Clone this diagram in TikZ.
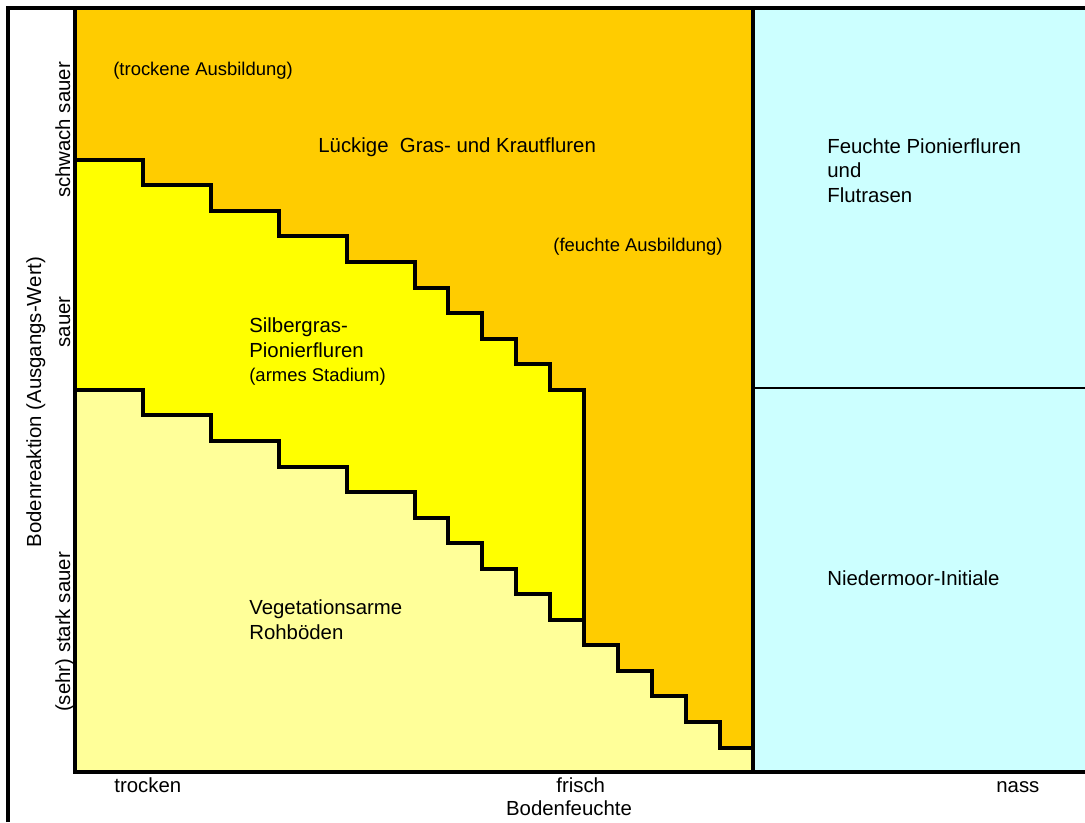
\documentclass[tikz,border=0pt]{standalone}
\usepackage{fontspec}
\setmainfont{Liberation Sans}
\definecolor{krautorange}{HTML}{FFCC00}
\definecolor{silbergelb}{HTML}{FFFF00}
\definecolor{rohgelb}{HTML}{FFFF99}
\definecolor{nasscyan}{HTML}{CCFFFF}

\begin{document}
\begin{tikzpicture}[x=0.02cm,y=-0.02cm,
    rand/.style={line width=2pt},
    zone/.style={anchor=base west,inner sep=0pt,font=\fontsize{11.6}{14}\selectfont},
    zonesmall/.style={zone,font=\fontsize{10.5}{12.6}\selectfont},
    achse/.style={anchor=base,inner sep=0pt,rotate=90,font=\fontsize{11.6}{14}\selectfont}]
    \useasboundingbox (0,0) rectangle (1085,822);
    % Flaechen
    \fill[krautorange] (75,8) rectangle (753,772);
    \fill[silbergelb] (75,160) -| (143,185) -| (211,211) -| (279,236) -| (347,262) -| (415,288)
        -| (448,313) -| (482,339) -| (516,364) -| (550,390) -| (584,772) -- (75,772) -- cycle;
    \fill[rohgelb] (75,390) -| (143,415) -| (211,441) -| (279,467) -| (347,492) -| (415,518)
        -| (448,543) -| (482,569) -| (516,594) -| (550,620) -| (584,645) -| (618,671)
        -| (652,696) -| (686,722) -| (720,748) -| (753,772) -- (75,772) -- cycle;
    \fill[nasscyan] (753,8) rectangle (1085,772);
    % Treppen
    \draw[rand] (75,160) -| (143,185) -| (211,211) -| (279,236) -| (347,262) -| (415,288)
        -| (448,313) -| (482,339) -| (516,364) -| (550,390) -| (584,645) -| (618,671)
        -| (652,696) -| (686,722) -| (720,748) -- (753,748);
    \draw[rand] (75,390) -| (143,415) -| (211,441) -| (279,467) -| (347,492) -| (415,518)
        -| (448,543) -| (482,569) -| (516,594) -| (550,620) -- (584,620);
    % Rahmen
    \draw[rand] (8,822) -- (8,8) -- (1085,8);
    \draw[rand] (75,8) -- (75,772) -- (1085,772);
    \draw[rand] (753,8) -- (753,772);
    \draw[line width=1.3pt] (753,388) -- (1085,388);
    % Beschriftung
    \node[zonesmall] (trockenaus) at (113,75) {(trockene Ausbildung)};
    \node[zone] (luecke) at (318,152) {Lückige\ \ Gras- und Krautfluren};
    \node[zonesmall] (feuchtaus) at (553,251) {(feuchte Ausbildung)};
    \node[zone] (silber1) at (249,332) {Silbergras-};
    \node[zone] (silber2) at (249,357) {Pionierfluren};
    \node[zonesmall] (silber3) at (249,381) {(armes Stadium)};
    \node[zone] (roh1) at (249,614) {Vegetationsarme};
    \node[zone] (roh2) at (249,639) {Rohböden};
    \node[zone] (flut1) at (827,153) {Feuchte Pionierfluren};
    \node[zone] (flut2) at (827,177) {und};
    \node[zone] (flut3) at (827,202) {Flutrasen};
    \node[zone] (moor) at (827,585) {Niedermoor-Initiale};
    % Achsen
    \node[zone] (trocken) at (114,792) {trocken};
    \node[zone] (frisch) at (556,792) {frisch};
    \node[zone] (nass) at (996,792) {nass};
    \node[zone,anchor=base] (feuchte) at (569,815) {Bodenfeuchte};
    \node[achse] (schwach) at (70,130) {schwach sauer};
    \node[achse] (sauer) at (70,322) {sauer};
    \node[achse] (stark) at (70,632) {(sehr) stark sauer};
    \node[achse] (reaktion) at (41,402) {Bodenreaktion (Ausgangs-Wert)};
\end{tikzpicture}
\end{document}
